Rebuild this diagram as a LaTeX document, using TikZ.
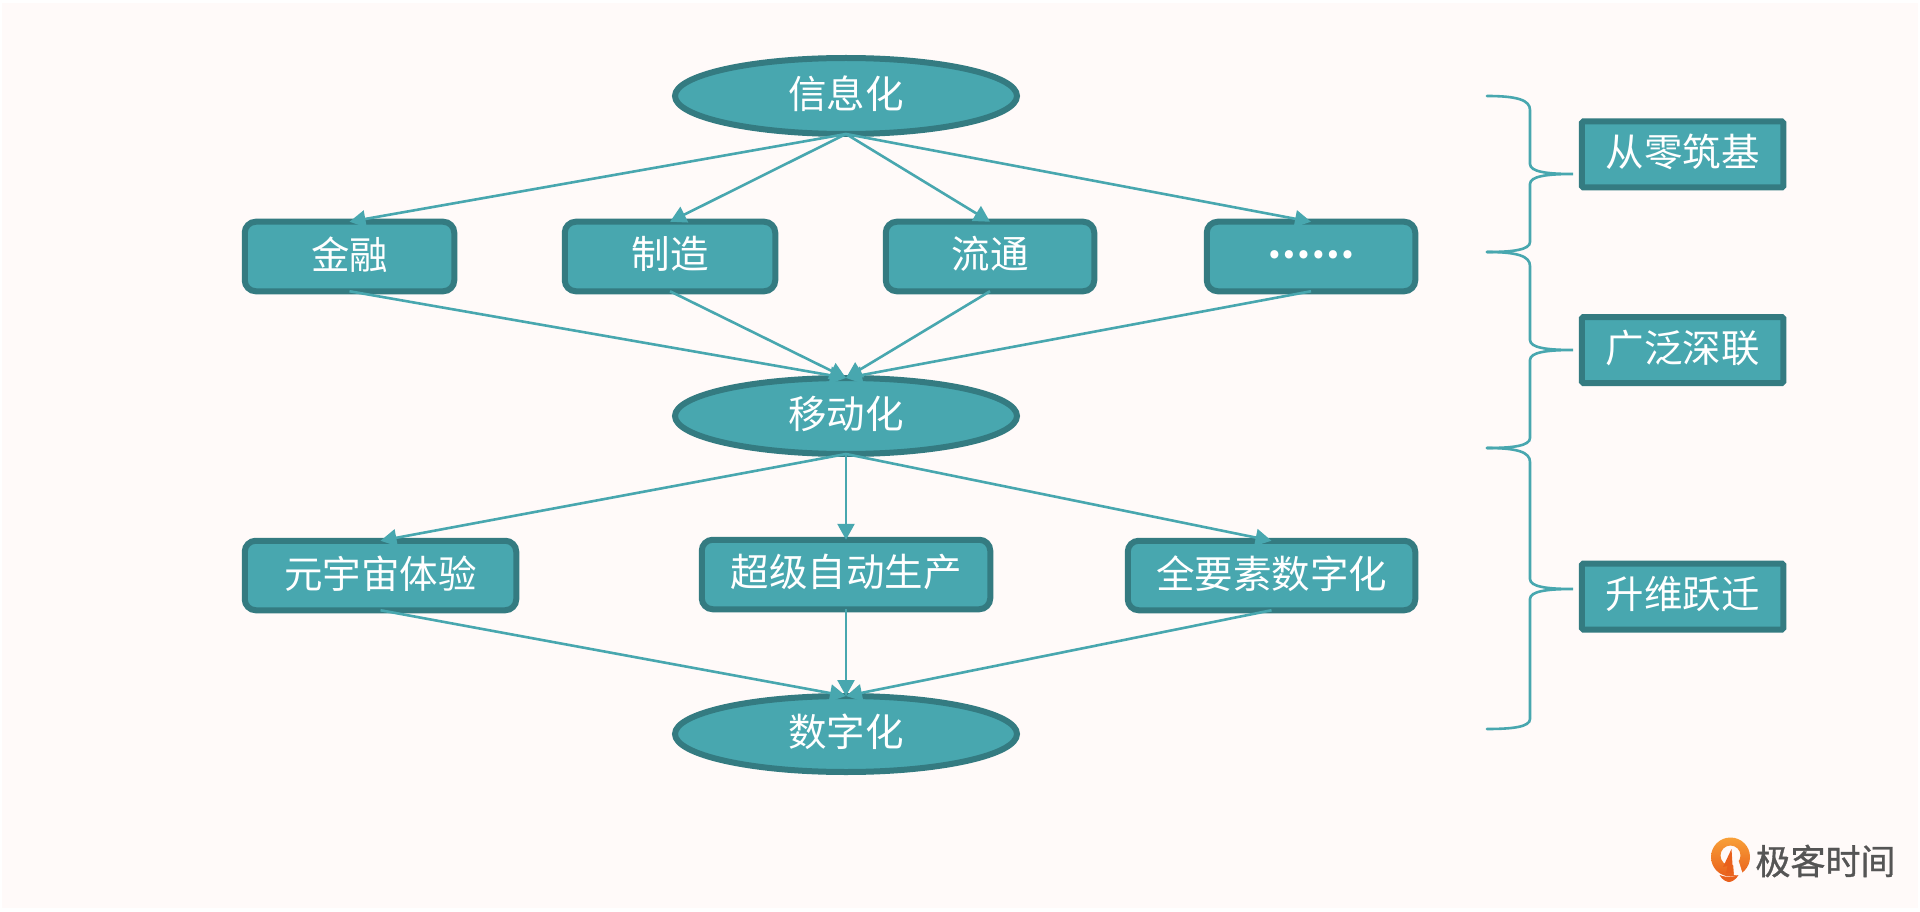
\documentclass[tikz,border=0pt]{standalone}
\usepackage{fontspec}
\setmainfont{Noto Sans CJK SC}
\newfontfamily\logofont[FakeBold=1.0]{Noto Sans CJK SC}
\usetikzlibrary{shapes.geometric,arrows.meta,shadings,calc}
\definecolor{bgc}{HTML}{FFFAF9}
\definecolor{fillc}{HTML}{48A7AF}
\definecolor{edgec}{HTML}{347B81}
\definecolor{logotxt}{HTML}{555555}
\definecolor{logoa}{HTML}{F8A038}
\definecolor{logob}{HTML}{E9601C}
\tikzset{
  x=1pt,y=-1pt,
  base/.style={fill=fillc,draw=edgec,line width=6pt,text=white,outer sep=0pt,inner sep=0pt,font=\fontsize{38.5}{38.5}\selectfont},
  oval/.style={base,ellipse,minimum width=342pt,minimum height=76pt},
  pill/.style={base,rectangle,rounded corners=11pt,minimum height=69.5pt},
  tag/.style={base,rectangle,rounded corners=1.5pt,minimum width=201.5pt,minimum height=66pt},
  conn/.style={draw=fillc,line width=2.6pt,-{Triangle[length=16pt,width=17pt]}},
  curly/.style={draw=fillc,line width=2.6pt,line cap=round},
}
\newcommand{\bracepath}[3]{% top, tip, bottom
  \draw[curly] (#1) .. controls ($(#1)+(30,0)$) and ($(#1)+(43,4)$) .. ($(#1)+(43,14)$)
    -- ($(#2)+(-43,-10)$) .. controls ($(#2)+(-43,-2)$) and ($(#2)+(-25,0)$) .. (#2)
    .. controls ($(#2)+(-25,0)$) and ($(#2)+(-43,2)$) .. ($(#2)+(-43,10)$)
    -- ($(#3)+(43,-10)$) .. controls ($(#3)+(43,-2)$) and ($(#3)+(25,0)$) .. (#3);}
\newcommand{\up}[1]{\raisebox{2.2pt}[\height][\depth]{#1}}
\begin{document}
\begin{tikzpicture}
\useasboundingbox (0,0) rectangle (1920,912);
\fill[white] (0,0) rectangle (1920,912);
\fill[bgc] (2,3) rectangle (1918,908);

\node[oval] (xxh) at (846,96) {\up{信息化}};
\node[oval] (ydh) at (846,416) {\up{移动化}};
\node[oval] (szh) at (846,734) {\up{数字化}};

\node[pill,minimum width=209.5pt] (jr) at (349.5,256.5) {\up{金融}};
\node[pill,minimum width=210.5pt] (zz) at (670,256.5) {\up{制造}};
\node[pill,minimum width=208.5pt] (lt) at (990,256.5) {\up{流通}};
\node[pill,minimum width=208.5pt] (more) at (1311,256.5) {\bfseries\fontsize{38.4}{38.4}\selectfont\up{……}};

\node[pill,minimum width=271.5pt] (yyz) at (380.5,575.5) {\up{元宇宙体验}};
\node[pill,minimum width=288.5pt] (cj) at (846,574.5) {\up{超级自动生产}};
\node[pill,minimum width=287.5pt] (qys) at (1271.5,575.5) {\up{全要素数字化}};

\node[tag] (t1) at (1682.5,154.5) {\up{从零筑基}};
\node[tag] (t2) at (1682.5,350) {\up{广泛深联}};
\node[tag] (t3) at (1682.5,596.5) {\up{升维跃迁}};

\foreach \n in {jr,zz,lt,more} {
  \draw[conn] (xxh.south) -- (\n.north);
  \draw[conn] (\n.south) -- (ydh.north);
}
\foreach \n in {yyz,cj,qys} {
  \draw[conn] (ydh.south) -- (\n.north);
  \draw[conn] (\n.south) -- (szh.north);
}

\coordinate (b0) at (1487,96);
\coordinate (b1) at (1487,252);
\coordinate (b2) at (1487,448);
\coordinate (b3) at (1487,729);
\coordinate (tip1) at (1573,174);
\coordinate (tip2) at (1573,350);
\coordinate (tip3) at (1573,589);
\bracepath{b0}{tip1}{b1}
\bracepath{b1}{tip2}{b2}
\bracepath{b2}{tip3}{b3}

% logo
\shade[top color=logoa,bottom color=logob,even odd rule]
  (1730.5,857) circle[radius=19.5]
  (1730.5,855.5) circle[radius=10];
\fill[bgc] (1732,850) -- (1734,875) -- (1743,875) -- (1739,862) -- cycle;
\fill[logob] (1731.5,849) -- (1733,873) -- (1726,873) -- (1727.5,866) -- (1723,867) -- cycle;
\fill[logob] (1719.5,875) .. controls (1725,877.5) and (1733,877.5) .. (1738.5,875) .. controls (1736,880) and (1731,882) .. (1729,882) .. controls (1727,882) and (1722,880) .. (1719.5,875) -- cycle;
\node[text=logotxt,inner sep=0pt,font=\logofont\fontsize{35}{35}\selectfont] (logo) at (1825.5,861) {极客时间};
\end{tikzpicture}
\end{document}
